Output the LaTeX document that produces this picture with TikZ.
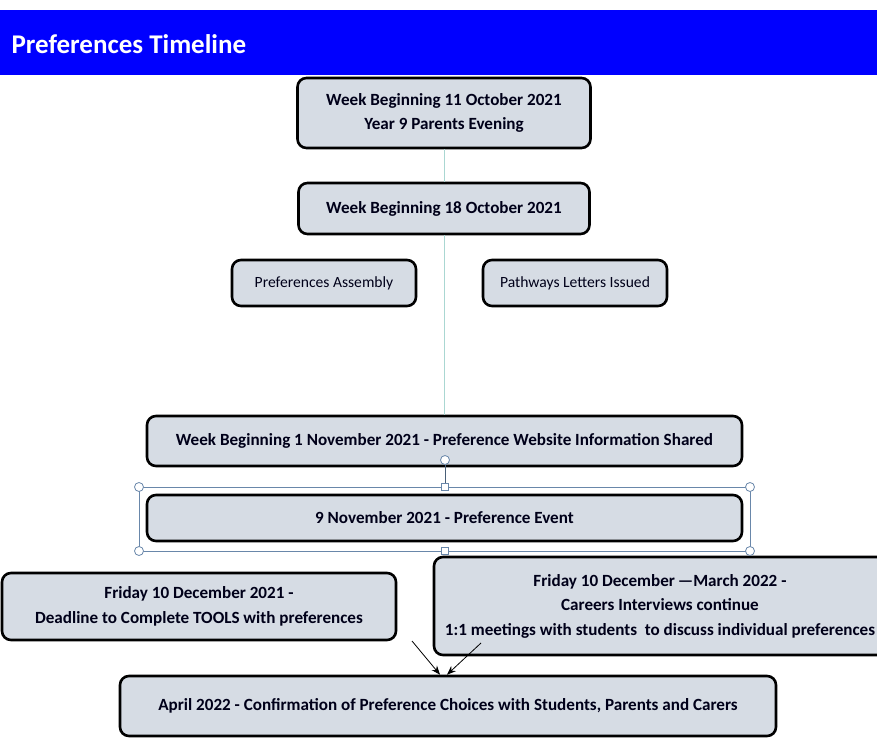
\documentclass[tikz,border=0pt]{standalone}
\usepackage{fontspec}
\setmainfont{Carlito}
\usetikzlibrary{positioning,arrows.meta,backgrounds}
\definecolor{boxfill}{RGB}{214,220,228}
\definecolor{spine}{RGB}{170,215,210}
\definecolor{selblue}{RGB}{105,135,170}
\definecolor{barblue}{RGB}{0,0,255}
\tikzset{
    % timeline boxes
    tlbox/.style={draw=black, line width=2.6pt, rounded corners=9pt,
                  fill=boxfill, align=center, inner sep=0pt,
                  text=black!90!blue,
                  font=\fontsize{17.1}{24.5}\selectfont\bfseries},
    plainbox/.style={tlbox, font=\fontsize{15.6}{24.5}\selectfont},
    % selection frame handles
    rhandle/.style={draw=selblue, fill=white, circle, inner sep=0pt,
                    minimum size=9pt, line width=0.8pt},
    shandle/.style={draw=selblue, fill=white, rectangle, inner sep=0pt,
                    minimum size=7pt, line width=0.8pt}
}
\begin{document}
\begin{tikzpicture}[x=1pt, y=-1pt]
    \useasboundingbox (0,0) rectangle (877,738);
    % header bar
    \fill[barblue] (0,10) rectangle (877,75);
    \node[anchor=west, text=white, font=\fontsize{27}{30}\selectfont\bfseries] (title) at (8,44) {Preferences Timeline};

    \node[tlbox, minimum width=293pt, minimum height=70pt] (wk11) at (444,113)
        {Week Beginning 11 October 2021\\Year 9 Parents Evening};
    \node[tlbox, minimum width=291pt, minimum height=51pt] (wk18) at (444,208.5)
        {Week Beginning 18 October 2021};
    \node[plainbox, minimum width=184pt, minimum height=46pt] (assembly) at (324,283)
        {Preferences Assembly};
    \node[plainbox, minimum width=184pt, minimum height=46pt] (letters) at (575,283)
        {Pathways Letters Issued};
    \node[tlbox, minimum width=595pt, minimum height=50pt] (website) at (444.5,441)
        {Week Beginning 1 November 2021 - Preference Website Information Shared};
    \node[tlbox, minimum width=595pt, minimum height=46pt] (event) at (444.5,518)
        {9 November 2021 - Preference Event};
    \node[tlbox, minimum width=394pt, minimum height=67pt] (deadline) at (199,606.5)
        {Friday 10 December 2021 -\\Deadline to Complete TOOLS with preferences};
    \node[tlbox, minimum width=452pt, minimum height=98pt] (interviews) at (660,606)
        {Friday 10 December\,---March 2022 -\\Careers Interviews continue\\1:1 meetings with students\ \ to discuss individual preferences};
    \node[tlbox, minimum width=656pt, minimum height=60pt] (april) at (448,706)
        {April 2022 - Confirmation of Preference Choices with Students, Parents and Carers};

    % spine
    \draw[spine, line width=0.8pt] (wk11.south) -- (wk18.north);
    \draw[spine, line width=0.8pt] (wk18.south) -- (wk18.south |- website.north);

    % selection frame round the event box
    \draw[selblue, line width=0.8pt] (139,487) rectangle (750,551);
    \node[rhandle] (rot) at (445,460) {};
    \node[shandle] (topmid) at (445,487) {};
    \node[shandle] (botmid) at (445,551) {};
    \draw[selblue!70!black, line width=0.8pt] (rot) -- (topmid);
    \foreach \cx/\cy in {139/487, 750/487, 139/551, 750/551}
        \node[rhandle] at (\cx,\cy) {};

    % arrows into the last box
    \coordinate (dtail) at (412,641);
    \coordinate (itail) at (481,643);
    \draw[-{Stealth[length=9pt, width=7pt]}, line width=0.8pt] (dtail) -- ([xshift=-8pt]april.north);
    \draw[-{Stealth[length=9pt, width=7pt]}, line width=0.8pt] (itail) -- ([xshift=-1pt]april.north);
\end{tikzpicture}
\end{document}
